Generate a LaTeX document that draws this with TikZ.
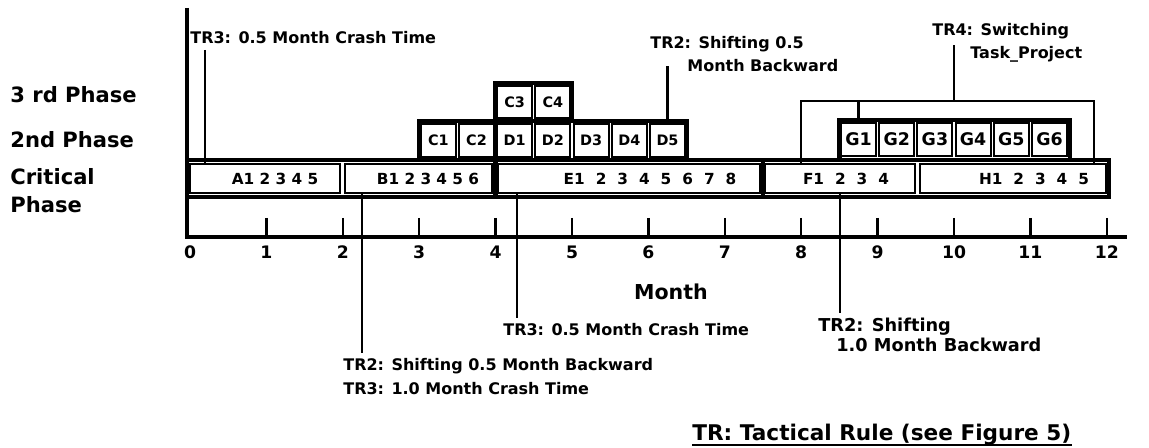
\documentclass[tikz,border=0pt]{standalone}
\usepackage{fontspec}
\setmainfont{DejaVu Sans}
\begin{document}
\begin{tikzpicture}[x=0.02cm, y=-0.02cm,
    % frames round a group of tasks
    frame/.style={draw, line width=2.4pt},
    % one task cell
    cell/.style={
        draw,
        line width=1.1pt,
        inner sep=0pt,
        minimum width=0.70cm,
        minimum height=0.66cm,
        font=\fontsize{8.2}{10}\selectfont\bfseries
    },
    gcell/.style={cell, font=\fontsize{9.9}{11}\selectfont\bfseries},
    % critical phase blocks
    cbox/.style={draw, line width=1.3pt, inner sep=0pt, minimum height=0.58cm},
    ctxt/.style={inner sep=0pt, font=\fontsize{8.7}{10}\selectfont\bfseries},
    ctxt_wide/.style={inner sep=0pt, font={\fontsize{8.7}{10}\selectfont\bfseries\spaceskip=0.72em\relax}},
    % texts
    phase_lbl/.style={anchor=base west, inner sep=0pt, font=\fontsize{12}{14}\selectfont\bfseries},
    ann/.style={anchor=base west, inner xsep=0pt, inner ysep=3pt, font=\fontsize{9.1}{11}\selectfont\bfseries},
    ann_big/.style={ann, font=\fontsize{10.1}{12}\selectfont\bfseries},
    num/.style={anchor=base, inner sep=0pt, font=\fontsize{9.8}{11}\selectfont\bfseries},
    % lines
    lead/.style={line width=1.2pt},
    axis/.style={line width=2.4pt},
    tick/.style={line width=1.3pt}
]
    \useasboundingbox (0,0) rectangle (1149,448);

    % ================== phase labels ==================
    \node[phase_lbl] (lbl_3rd) at (10,103) {3 rd Phase};
    \node[phase_lbl] (lbl_2nd) at (10,148) {2nd Phase};
    \node[phase_lbl] (lbl_crit) at (10,185) {Critical};
    \node[phase_lbl] (lbl_crit2) at (10,213) {Phase};

    % ================== time axis ==================
    \draw[axis] (187,8) -- (187,237) -- (1127,237);
    \foreach \m in {1,...,12} {
        \draw[tick] ({190+76.4*\m},218) -- ({190+76.4*\m},237);
    }
    \foreach \m in {0,...,12} {
        \node[num] (num_\m) at ({190+76.4*\m},259) {\m};
    }
    \node[anchor=base, inner sep=0pt, font=\fontsize{11.7}{13}\selectfont\bfseries] (month) at (671,300) {Month};

    % ================== critical phase ==================
    \draw[frame] (187,160) rectangle (1109,197);
    \node[cbox, minimum width=3.00cm] (crit_a) at (265,178.5) {};
    \node[cbox, minimum width=2.94cm] (crit_b) at (418.5,178.5) {};
    \node[cbox, minimum width=5.24cm] (crit_e) at (629,178.5) {};
    \node[cbox, minimum width=3.00cm] (crit_f) at (840,178.5) {};
    \node[cbox, minimum width=3.72cm] (crit_h) at (1013,178.5) {};
    \draw[frame] (763,160) -- (763,197);

    \node[ctxt] (txt_a) at (275,178.5) {A1 2 3 4 5};
    \node[ctxt] (txt_b) at (428,178.5) {B1 2 3 4 5 6};
    \node[ctxt_wide] (txt_e) at (650,178.5) {E1 2 3 4 5 6 7 8};
    \node[ctxt_wide] (txt_f) at (846,178.5) {F1 2 3 4};
    \node[ctxt_wide] (txt_h) at (1034,178.5) {H1 2 3 4 5};

    % ================== 2nd and 3rd phase ==================
    \draw[frame] (419.2,121) rectangle (686.6,160);
    \draw[frame] (495.6,83) rectangle (572,121);
    \draw[frame] (495.6,121) -- (495.6,197);

    \node[cell, minimum height=0.64cm] (c3) at (514.7,102) {C3};
    \node[cell, minimum height=0.64cm] (c4) at (552.9,102) {C4};

    \node[cell] (c1) at (438.3,140.5) {C1};
    \node[cell] (c2) at (476.5,140.5) {C2};
    \node[cell] (d1) at (514.7,140.5) {D1};
    \node[cell] (d2) at (552.9,140.5) {D2};
    \node[cell] (d3) at (591.1,140.5) {D3};
    \node[cell] (d4) at (629.3,140.5) {D4};
    \node[cell] (d5) at (667.5,140.5) {D5};

    % G tasks
    \draw[frame] (839.4,120) rectangle (1069.6,160);
    \node[gcell] (g1) at (858.5,139.5) {G1};
    \node[gcell] (g2) at (896.7,139.5) {G2};
    \node[gcell] (g3) at (934.9,139.5) {G3};
    \node[gcell] (g4) at (973.1,139.5) {G4};
    \node[gcell] (g5) at (1011.3,139.5) {G5};
    \node[gcell] (g6) at (1049.5,139.5) {G6};

    % ================== tactical rules ==================
    \node[ann] (tr3_top) at (190,44) {TR3: 0.5 Month Crash Time};
    \node[ann] (tr2_top_a) at (650,49) {TR2: Shifting 0.5};
    \node[ann] (tr2_top_b) at (687,72) {Month Backward};
    \node[ann] (tr4_a) at (932,36) {TR4: Switching};
    \node[ann] (tr4_b) at (970,59) {Task\_Project};

    \node[ann] (tr2_low) at (343,371) {TR2: Shifting 0.5 Month Backward};
    \node[ann] (tr3_low) at (343,395) {TR3: 1.0 Month Crash Time};
    \node[ann] (tr3_mid) at (503,336) {TR3: 0.5 Month Crash Time};
    \node[ann_big] (tr2_right_a) at (818,332) {TR2: Shifting};
    \node[ann_big] (tr2_right_b) at (836,352) {1.0 Month Backward};

    \node[anchor=base west, inner sep=0pt, font=\fontsize{12.3}{14}\selectfont\bfseries] (note) at (692,441) {TR: Tactical Rule (see Figure 5)};
    \draw[line width=0.9pt] ([yshift=-2.4pt]note.base west) -- ([yshift=-2.4pt]note.base east);

    % leader lines
    \coordinate (lx_a) at (205,0);
    \coordinate (lx_b) at (361.9,0);
    \coordinate (lx_e) at (517,0);
    \coordinate (tr4_x) at (954,0);
    \coordinate (br_l) at (801.2,101);
    \coordinate (br_r) at (1094,101);

    \draw[lead] (lx_a |- tr3_top.south) -- (lx_a |- crit_a.north);
    \draw[lead] (d5.north |- tr2_top_b.west) -- (d5.north);
    \draw[lead] (tr4_x |- tr4_a.south) -- (tr4_x |- br_l);
    \draw[lead] (br_l |- crit_f.north) -- (br_l) -- (br_r) -- (br_r |- crit_h.north);
    \draw[lead] (g1.north |- br_l) -- (g1.north);

    \draw[lead] (lx_b |- crit_b.south) -- (lx_b |- tr2_low.north);
    \draw[lead] (lx_e |- crit_e.south) -- (lx_e |- tr3_mid.north);
    \draw[lead] (crit_f.south) -- (crit_f.south |- tr2_right_a.north);

\end{tikzpicture}
\end{document}
